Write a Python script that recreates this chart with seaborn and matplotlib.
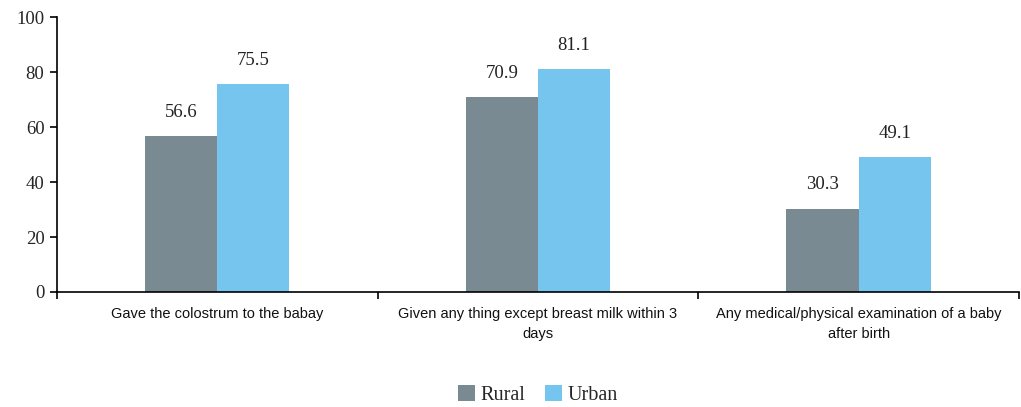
import matplotlib
matplotlib.use("Agg")
import matplotlib.pyplot as plt
import seaborn as sns
import pandas as pd

categories = ["Gave the colostrum to the babay",
              "Given any thing except breast milk within 3\ndays",
              "Any medical/physical examination of a baby\nafter birth"]
rural = [56.6, 70.9, 30.3]
urban = [75.5, 81.1, 49.1]
series = ["Rural", "Urban"]
yticks = [0, 20, 40, 60, 80, 100]

df = pd.DataFrame({
    "cat": categories * 2,
    "val": rural + urban,
    "area": [series[0]] * 3 + [series[1]] * 3,
})

sns.set_style("white")
plt.rcParams["font.family"] = ["Liberation Serif", "DejaVu Serif"]

fig = plt.figure(figsize=(10.21, 4.07), dpi=100)
ax = fig.add_axes([0.0558, 0.2826, 0.9422, 0.6754])

sns.barplot(data=df, x="cat", y="val", hue="area", order=categories,
            hue_order=series, palette=["#7A8A93", "#76C5EE"],
            width=0.45, gap=0, saturation=1, ax=ax, errorbar=None,
            linewidth=0, edgecolor="none")

for cont in ax.containers:
    ax.bar_label(cont, fmt="%.1f", padding=11, fontsize=13.5,
                 family="Liberation Serif", color="#222222")

ax.set_ylim(0, 100)
ax.set_yticks(yticks)
ax.set_xlim(-0.5, 2.5)
ax.set_xlabel("")
ax.set_ylabel("")
for s in ["top", "right"]:
    ax.spines[s].set_visible(False)
for s in ["left", "bottom"]:
    ax.spines[s].set_color("black")
    ax.spines[s].set_linewidth(1.2)

ax.tick_params(axis="y", which="major", direction="out", length=5, width=1.2,
               color="black", labelsize=13.5, pad=4, left=True)
ax.tick_params(axis="x", which="major", length=0, pad=11)
for lab in ax.get_xticklabels():
    lab.set_family("Liberation Sans")
    lab.set_fontsize(10.5)
    lab.set_color("#111111")
    lab.set_linespacing(1.55)
ax.set_xticks([-0.5, 0.5, 1.5, 2.5], minor=True)
ax.tick_params(axis="x", which="minor", direction="out", length=5, width=1.2,
               color="black", bottom=True)

leg = ax.legend(loc="center", bbox_to_anchor=(0.5, -0.375), ncol=2,
                frameon=False, fontsize=14.5, handlelength=0.85, handleheight=0.85,
                handletextpad=0.25, columnspacing=1.0)

fig.savefig("out.png", dpi=100)
